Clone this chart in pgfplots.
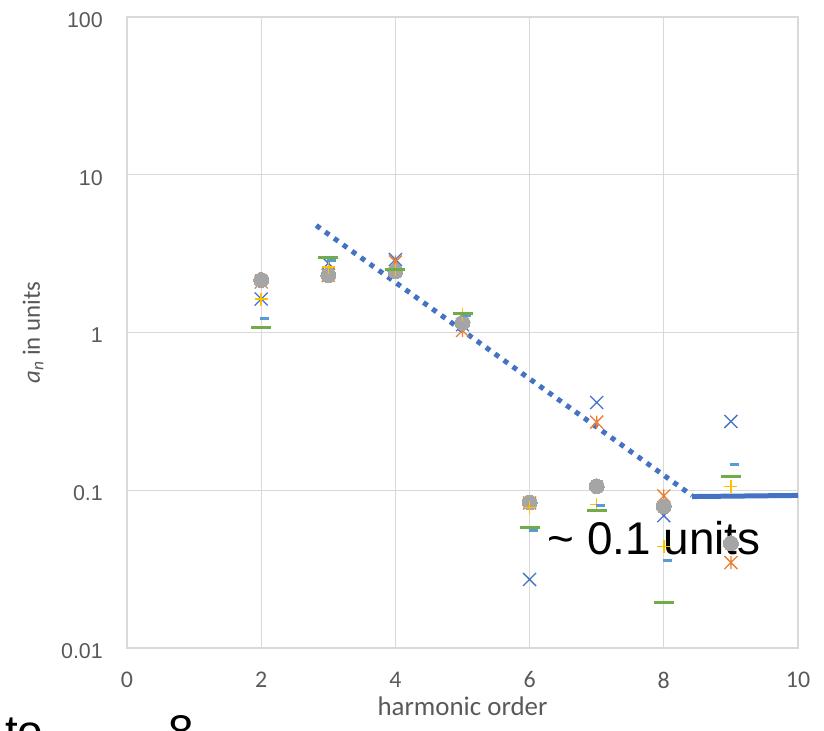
\documentclass[border=0pt]{standalone}
\usepackage{fontspec}
\setmainfont{Carlito}
\newfontfamily\arialfont{Liberation Sans}
\usepackage{pgfplots}
\pgfplotsset{compat=1.18}

\definecolor{sOne}{HTML}{4472C4}
\definecolor{sTwo}{HTML}{ED7D31}
\definecolor{sThree}{HTML}{A5A5A5}
\definecolor{sFour}{HTML}{FFC000}
\definecolor{sFive}{HTML}{5B9BD5}
\definecolor{sSix}{HTML}{70AD47}
\definecolor{trend}{HTML}{4472C4}
\definecolor{gridgray}{HTML}{D9D9D9}
\definecolor{labelgray}{HTML}{595959}

% star marker: an x with a vertical bar through it
\pgfdeclareplotmark{xstar}{%
  \pgfpathmoveto{\pgfqpoint{0pt}{\pgfplotmarksize}}%
  \pgfpathlineto{\pgfqpoint{0pt}{-\pgfplotmarksize}}%
  \pgfpathmoveto{\pgfqpoint{-\pgfplotmarksize}{-\pgfplotmarksize}}%
  \pgfpathlineto{\pgfqpoint{\pgfplotmarksize}{\pgfplotmarksize}}%
  \pgfpathmoveto{\pgfqpoint{-\pgfplotmarksize}{\pgfplotmarksize}}%
  \pgfpathlineto{\pgfqpoint{\pgfplotmarksize}{-\pgfplotmarksize}}%
  \pgfusepathqstroke}
% short dash marker, starting at the point and running to the right
\pgfdeclareplotmark{sdash}{%
  \pgfpathmoveto{\pgfqpoint{-0.12\pgfplotmarksize}{0pt}}%
  \pgfpathlineto{\pgfqpoint{\pgfplotmarksize}{0pt}}%
  \pgfusepathqstroke}

\begin{document}
\begin{tikzpicture}
\begin{axis}[
  name=ax, at={(0,0)}, anchor=south west,
  scale only axis, width=671bp, height=631bp,
  xmin=0, xmax=10, ymode=log, log basis y=10, ymin=0.01, ymax=100,
  xtick={0,2,4,6,8,10}, xticklabels={0,2,4,6,8,10},
  ytick={0.01,0.1,1,10,100}, yticklabels={0.01,0.1,1,10,100},
  minor tick num=0,
  grid=major,
  major grid style={draw=gridgray, line width=1.3bp},
  axis line style={draw=gridgray, line width=1.3bp},
  tick style={draw=none},
  xticklabel style={font=\fontsize{24}{28}\selectfont, text=labelgray, anchor=center, yshift=-32bp},
  yticklabel style={font=\arialfont\fontsize{21.5}{25}\selectfont, text=labelgray, anchor=east, inner sep=0pt, xshift=-24bp, yshift=-3bp},
  xlabel={harmonic order},
  xlabel style={font=\fontsize{27}{30}\selectfont, text=labelgray, at={(axis description cs:0.5,0)}, anchor=center, yshift=-58bp},
  ylabel={\textit{a}\textsubscript{\textit{n}} in units},
  ylabel style={font=\fontsize{25}{28}\selectfont, text=labelgray, at={(axis description cs:-0.140,0.5)}, anchor=center},
]
% series 1
\addplot[sOne, only marks, mark=x, mark size=9.2bp, mark options={draw=sOne, line width=1.3bp}]
  coordinates {(2,1.63) (3,2.75) (4,2.9) (5,1.12) (6,0.0272) (7,0.36) (8,0.069) (9,0.273)};
% series 2
\addplot[sTwo, only marks, mark=xstar, mark size=6.5bp, mark options={draw=sTwo, line width=1.3bp}]
  coordinates {(2,2.09) (3,2.3) (4,2.8) (5,1.03) (6,0.083) (7,0.27) (8,0.092) (9,0.0348)};
% series 3
\addplot[sThree, only marks, mark=*, mark size=7.5bp, mark options={fill=sThree, draw=sThree, line width=0pt}]
  coordinates {(2,2.15) (3,2.31) (4,2.44) (5,1.15) (6,0.0836) (7,0.106) (8,0.079) (9,0.046)};
% series 4
\addplot[sFour, only marks, mark=+, mark size=6.5bp, mark options={draw=sFour, line width=1.5bp}]
  coordinates {(2,1.63) (3,2.6) (4,2.5) (5,1.3) (6,0.0778) (7,0.0815) (8,0.044) (9,0.106)};
% series 5
\addplot[sFive, only marks, mark=sdash, mark size=8bp, mark options={draw=sFive, line width=3bp}]
  coordinates {(2,1.23) (3,2.87) (4,2.51) (5,1.29) (6,0.0557) (7,0.08) (8,0.0359) (9,0.146)};
% series 6
\addplot[sSix, only marks, mark=-, mark size=10bp, mark options={draw=sSix, line width=3bp}]
  coordinates {(2,1.07) (3,3.0) (4,2.51) (5,1.32) (6,0.058) (7,0.074) (8,0.0194) (9,0.122)};
% exponential decay trend and the flat floor
\addplot[trend, line width=5bp, dash pattern=on 5bp off 6bp, mark=none]
  coordinates {(2.82,4.77) (8.42,0.0926)};
\addplot[trend, line width=5bp, mark=none]
  coordinates {(8.42,0.0912) (10,0.0927)};
\node[anchor=base west, inner sep=0pt, font=\arialfont\fontsize{46}{50}\selectfont]
  at (axis cs:6.27,0.0392) {\textasciitilde\ 0.1 units};
\end{axis}
\node[anchor=base west, inner sep=0pt, font=\arialfont\fontsize{46}{50}\selectfont]
  at ([xshift=-122bp, yshift=-100bp]ax.south west) {to\hspace{125bp}8};
\pgfresetboundingbox
\path[use as bounding box] ([xshift=-127bp, yshift=-83bp]ax.south west) rectangle ([xshift=26bp, yshift=17bp]ax.north east);
\end{tikzpicture}
\end{document}
